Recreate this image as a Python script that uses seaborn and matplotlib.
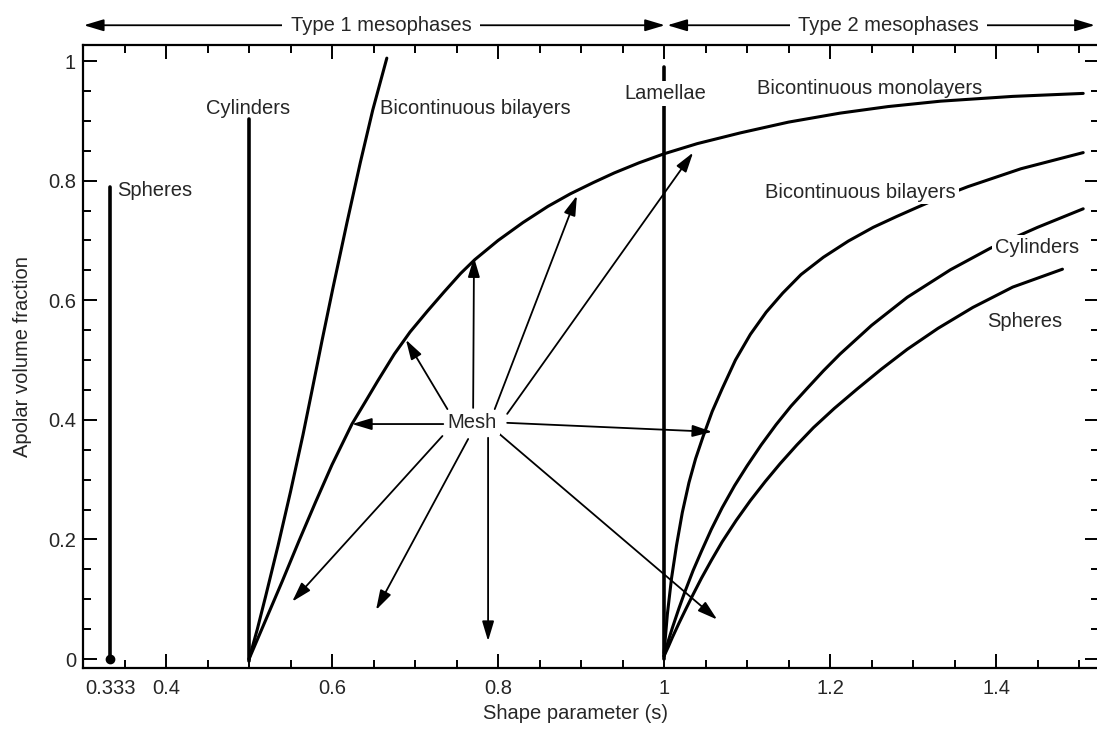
import numpy as np
import matplotlib
matplotlib.use("Agg")
import matplotlib.pyplot as plt
from matplotlib.ticker import MultipleLocator
import seaborn as sns

# shape parameter (s) vs apolar volume fraction
# type 1 mesophases
sph1_s = [0.333, 0.333]
sph1_f = [0.0, 0.79]
cyl1_s = [0.5, 0.5]
cyl1_f = [-0.004, 0.903]
bil1_s = [0.5, 0.51, 0.52, 0.535, 0.55, 0.565, 0.576, 0.588, 0.601, 0.618, 0.634, 0.649, 0.666]
bil1_f = [0.0, 0.05, 0.105, 0.19, 0.28, 0.375, 0.45, 0.533, 0.62, 0.73, 0.83, 0.918, 1.005]
# bicontinuous monolayers (spans both types)
mono_s = [0.5, 0.52, 0.54, 0.56, 0.58, 0.6, 0.624, 0.64, 0.655, 0.675, 0.694, 0.715,
          0.735, 0.755, 0.772, 0.8, 0.83, 0.86, 0.887, 0.915, 0.94, 0.97, 1.0, 1.04,
          1.092, 1.15, 1.212, 1.27, 1.333, 1.42, 1.505]
mono_f = [0.0, 0.065, 0.13, 0.197, 0.262, 0.325, 0.393, 0.43, 0.465, 0.51, 0.547, 0.582,
          0.614, 0.645, 0.668, 0.7, 0.73, 0.757, 0.778, 0.797, 0.813, 0.83, 0.845, 0.862,
          0.88, 0.898, 0.913, 0.924, 0.933, 0.941, 0.946]
# type 2 mesophases
lam_s = [1.0, 1.0]
lam_f = [0.0, 0.99]
bil2_s = [1.0, 1.004, 1.009, 1.015, 1.022, 1.03, 1.038, 1.047, 1.058, 1.07, 1.086, 1.104,
          1.123, 1.143, 1.165, 1.192, 1.222, 1.252, 1.28, 1.306, 1.336, 1.366, 1.43, 1.505]
bil2_f = [0.01, 0.075, 0.135, 0.19, 0.245, 0.295, 0.335, 0.372, 0.414, 0.452, 0.5, 0.543,
          0.58, 0.612, 0.643, 0.672, 0.699, 0.722, 0.74, 0.756, 0.774, 0.79, 0.82, 0.847]
cyl2_s = [1.0, 1.005, 1.01, 1.018, 1.025, 1.035, 1.045, 1.057, 1.07, 1.085, 1.1, 1.117,
          1.135, 1.153, 1.172, 1.192, 1.212, 1.25, 1.293, 1.345, 1.393, 1.45, 1.505]
cyl2_f = [0.005, 0.03, 0.052, 0.085, 0.112, 0.148, 0.18, 0.217, 0.253, 0.29, 0.323, 0.358,
          0.392, 0.423, 0.452, 0.482, 0.51, 0.558, 0.605, 0.651, 0.687, 0.722, 0.753]
sph2_s = [1.0, 1.005, 1.01, 1.018, 1.025, 1.035, 1.045, 1.057, 1.07, 1.087, 1.104, 1.122,
          1.14, 1.16, 1.18, 1.205, 1.233, 1.262, 1.293, 1.33, 1.372, 1.42, 1.48]
sph2_f = [0.005, 0.02, 0.036, 0.06, 0.08, 0.108, 0.135, 0.165, 0.196, 0.232, 0.265, 0.297,
          0.327, 0.358, 0.387, 0.419, 0.452, 0.485, 0.518, 0.553, 0.588, 0.622, 0.652]

# "Mesh" arrows: tail and head positions
mesh_tail_s = [0.734, 0.739, 0.770, 0.796, 0.811, 0.811, 0.802, 0.788, 0.764, 0.733]
mesh_tail_f = [0.393, 0.418, 0.420, 0.418, 0.410, 0.395, 0.376, 0.370, 0.368, 0.373]
mesh_head_s = [0.624, 0.689, 0.771, 0.895, 1.035, 1.058, 1.064, 0.788, 0.653, 0.552]
mesh_head_f = [0.393, 0.534, 0.672, 0.775, 0.847, 0.380, 0.066, 0.030, 0.082, 0.096]

xtick_vals = [0.333, 0.4, 0.6, 0.8, 1.0, 1.2, 1.4]
xtick_labels = ['0.333', '0.4', '0.6', '0.8', '1', '1.2', '1.4']
ytick_vals = [0.0, 0.2, 0.4, 0.6, 0.8, 1.0]
ytick_labels = ['0', '0.2', '0.4', '0.6', '0.8', '1']


def main():
    sns.set_theme(style='ticks')
    plt.rcParams['font.family'] = ['Liberation Sans', 'DejaVu Sans']
    plt.rcParams['font.size'] = 14.5

    fig = plt.figure(figsize=(10.97, 7.29), dpi=100)
    ax = fig.add_axes([0.0757, 0.0837, 0.9261, 0.8546])

    curves = [(sph1_s, sph1_f, 2.6), (cyl1_s, cyl1_f, 2.6), (bil1_s, bil1_f, 2.2),
              (mono_s, mono_f, 2.2), (lam_s, lam_f, 2.6), (bil2_s, bil2_f, 2.2),
              (cyl2_s, cyl2_f, 2.2), (sph2_s, sph2_f, 2.2)]
    for s, f, w in curves:
        sns.lineplot(x=s, y=f, ax=ax, color='black', lw=w, sort=False,
                     estimator=None, legend=False)
    for ln in ax.lines:
        ln.set_solid_joinstyle('round')
    ax.plot([sph1_s[0]], [sph1_f[0]], 'o', color='black', ms=6)

    arrow = dict(arrowstyle='-|>,head_length=0.6,head_width=0.18', color='black',
                 lw=1.3, mutation_scale=20, shrinkA=0, shrinkB=0)
    for s0, f0, s1, f1 in zip(mesh_tail_s, mesh_tail_f, mesh_head_s, mesh_head_f):
        ax.annotate('', xy=(s1, f1), xytext=(s0, f0), arrowprops=arrow)

    white = dict(facecolor='white', edgecolor='none', pad=2)
    ax.text(0.769, 0.395, 'Mesh', ha='center', va='center', bbox=white, zorder=5)
    ax.text(0.341, 0.784, 'Spheres', ha='left', va='center')
    ax.text(0.499, 0.921, 'Cylinders', ha='center', va='center')
    ax.text(0.658, 0.921, 'Bicontinuous bilayers', ha='left', va='center')
    ax.text(1.002, 0.946, 'Lamellae', ha='center', va='center', bbox=white, zorder=5)
    ax.text(1.248, 0.955, 'Bicontinuous monolayers', ha='center', va='center')
    ax.text(1.237, 0.781, 'Bicontinuous bilayers', ha='center', va='center',
            bbox=white, zorder=5)
    ax.text(1.449, 0.689, 'Cylinders', ha='center', va='center', bbox=white, zorder=5)
    ax.text(1.435, 0.564, 'Spheres', ha='center', va='center')

    # type 1 / type 2 ranges above the frame
    top_y = 1.06
    for a, b, mid, lab in [(0.301, 1.001, 0.659, 'Type 1 mesophases'),
                           (1.004, 1.519, 1.27, 'Type 2 mesophases')]:
        ax.annotate('', xy=(a, top_y), xytext=(b, top_y), arrowprops=dict(
            arrowstyle='<|-|>,head_length=0.6,head_width=0.18', color='black',
            lw=1.3, mutation_scale=20, shrinkA=0, shrinkB=0),
            annotation_clip=False)
        ax.text(mid, top_y, lab, ha='center', va='center', clip_on=False,
                bbox=dict(facecolor='white', edgecolor='none', pad=6), zorder=5)

    ax.set_xlim(0.300, 1.524)
    ax.set_ylim(-0.015, 1.027)
    ax.set_xticks(xtick_vals)
    ax.set_xticklabels(xtick_labels)
    ax.set_yticks(ytick_vals)
    ax.set_yticklabels(ytick_labels)
    ax.xaxis.set_minor_locator(MultipleLocator(0.05))
    ax.yaxis.set_minor_locator(MultipleLocator(0.05))
    ax.tick_params(which='both', direction='in', top=True, right=True,
                   width=1.4, color='black', labelsize=14.5)
    ax.tick_params(which='major', length=10)
    ax.tick_params(which='minor', length=5.5)
    ax.tick_params(axis='x', which='major', pad=8)
    ax.tick_params(axis='y', which='major', pad=5)
    first = ax.xaxis.get_major_ticks()[0]
    first.tick1line.set_visible(False)
    first.tick2line.set_visible(False)
    for sp in ax.spines.values():
        sp.set_linewidth(1.6)
        sp.set_color('black')

    ax.set_xlabel('Shape parameter (s)', fontsize=14.5)
    ax.set_ylabel('Apolar volume fraction', fontsize=14.5)
    ax.xaxis.set_label_coords(0.485, -0.058)
    ax.yaxis.set_label_coords(-0.05, 0.5)

    fig.savefig('out.png', dpi=100)


if __name__ == '__main__':
    main()
